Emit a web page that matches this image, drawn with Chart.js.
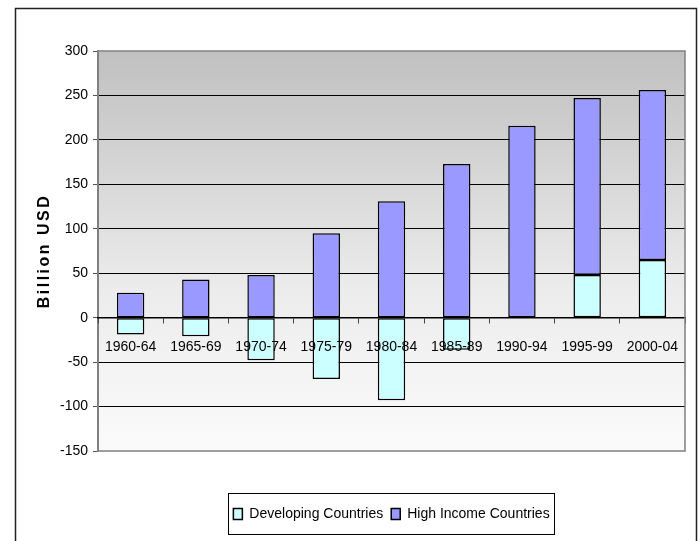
<!DOCTYPE html>
<html>
<head>
<meta charset="utf-8">
<script src="https://cdn.jsdelivr.net/npm/chart.js@4.4.0/dist/chart.umd.min.js"></script>
<style>
  html, body { margin: 0; padding: 0; background: #fff; }
  #wrap { width: 699px; height: 541px; }
</style>
</head>
<body>
<div id="wrap"><canvas id="myChart" width="699" height="541"></canvas></div>
<script>
// data
const periods = ['1960-64', '1965-69', '1970-74', '1975-79', '1980-84', '1985-89', '1990-94', '1995-99', '2000-04'];
const developing = [-19, -21, -48, -69, -93, -36, 0, 48, 65];
const highIncome = [28, 43, 48, 95, 131, 173, 216, 199, 191];
const yTicks = { min: -150, max: 300, step: 50 };
const yTitle = 'Billion USD';

const sans = "'Liberation Sans', Arial, sans-serif";
const padBottom = 10;
const gapHeight = 48;   // empty band between plot and legend

// grey-to-white plot background, plot frame, outer frame, legend frame, y title
const decor = {
  id: 'decor',
  beforeDraw(chart) {
    const c = chart.ctx, a = chart.chartArea;
    c.save();
    const g = c.createLinearGradient(0, a.top, 0, a.bottom);
    g.addColorStop(0, '#c0c0c0');
    g.addColorStop(0.6, '#ececec');
    g.addColorStop(1, '#fbfbfb');
    c.fillStyle = g;
    c.fillRect(a.left, a.top, a.right - a.left, a.bottom - a.top);
    c.restore();
  },
  afterDraw(chart) {
    const c = chart.ctx, a = chart.chartArea;
    c.save();
    // plot frame
    c.strokeStyle = '#808080';
    c.lineWidth = 1.5;
    c.beginPath();
    c.moveTo(a.left, a.top);
    c.lineTo(a.right, a.top);
    c.lineTo(a.right, a.bottom);
    c.lineTo(a.left, a.bottom);
    c.stroke();
    // outer frame
    c.strokeStyle = '#222';
    c.lineWidth = 1.5;
    c.strokeRect(15.5, 8.5, 681, 600);
    // legend frame
    const lg = chart.legend;
    if (lg && lg.legendHitBoxes && lg.legendHitBoxes.length) {
      const hb = lg.legendHitBoxes;
      let l = Infinity, r = -Infinity, t = Infinity, b = -Infinity;
      hb.forEach(h => {
        l = Math.min(l, h.left); r = Math.max(r, h.left + h.width);
        t = Math.min(t, h.top); b = Math.max(b, h.top + h.height);
      });
      c.strokeStyle = '#000';
      c.lineWidth = 1;
      c.strokeRect(Math.round(l - 5) + 0.5, Math.round(t - 14) + 0.5, Math.round(r - l + 10), Math.round(b - t + 27));
    }
    // y axis title, spaced letters
    c.translate(45, (a.top + a.bottom) / 2);
    c.rotate(-Math.PI / 2);
    c.font = "bold 16px 'Liberation Sans', Arial, sans-serif";
    c.letterSpacing = '2.5px';
    c.fillStyle = '#000';
    c.textAlign = 'center';
    c.textBaseline = 'middle';
    c.fillText(yTitle, 0, 0);
    c.restore();
  }
};

const ctx = document.getElementById('myChart');

const myChart = new Chart(ctx, {
  type: 'bar',
  data: {
    labels: periods,
    datasets: [
      {
        label: 'Developing Countries',
        data: developing,
        backgroundColor: '#ccffff',
        borderColor: '#000',
        borderWidth: 1.5,
        borderSkipped: false
      },
      {
        label: 'High Income Countries',
        data: highIncome,
        backgroundColor: '#9999ff',
        borderColor: '#000',
        borderWidth: 1.5,
        borderSkipped: false
      }
    ]
  },
  options: {
    responsive: false,
    animation: false,
    layout: { padding: { left: 0, right: 14, top: 51, bottom: padBottom } },
    datasets: { bar: { categoryPercentage: 1, barPercentage: 0.42 } },
    scales: {
      x: {
        stacked: true,
        position: { y: 0 },
        grid: { display: true, drawOnChartArea: false, drawTicks: true, tickLength: 5, color: '#444', offset: true, z: 1 },
        border: { color: '#000', width: 1.5, z: 1 },
        ticks: { color: '#000', padding: 16, maxRotation: 0, autoSkip: false, z: 1, font: { family: sans, size: 14 } }
      },
      gap: {
        type: 'category',
        labels: periods,
        position: 'bottom',
        display: true,
        grid: { display: false },
        border: { display: false },
        ticks: { display: false },
        afterFit(s) { s.height = gapHeight; }
      },
      y: {
        stacked: true,
        min: yTicks.min,
        max: yTicks.max,
        afterFit(s) { s.width = 98; },
        ticks: { stepSize: yTicks.step, color: '#000', padding: 5, font: { family: sans, size: 14 } },
        grid: {
          color: c => (c.tick && (c.tick.value === yTicks.max || c.tick.value === yTicks.min)) ? 'rgba(0,0,0,0)' : '#000',
          tickColor: '#555',
          tickLength: 5,
          lineWidth: 1
        },
        border: { color: '#808080', width: 2 }
      }
    },
    plugins: {
      legend: {
        display: true,
        position: 'bottom',
        fullSize: false,
        labels: {
          boxWidth: 9,
          boxHeight: 11,
          padding: 8,
          color: '#000',
          font: { family: sans, size: 14 }
        }
      },
      tooltip: { enabled: false }
    }
  },
  plugins: [decor]
});
</script>
</body>
</html>
